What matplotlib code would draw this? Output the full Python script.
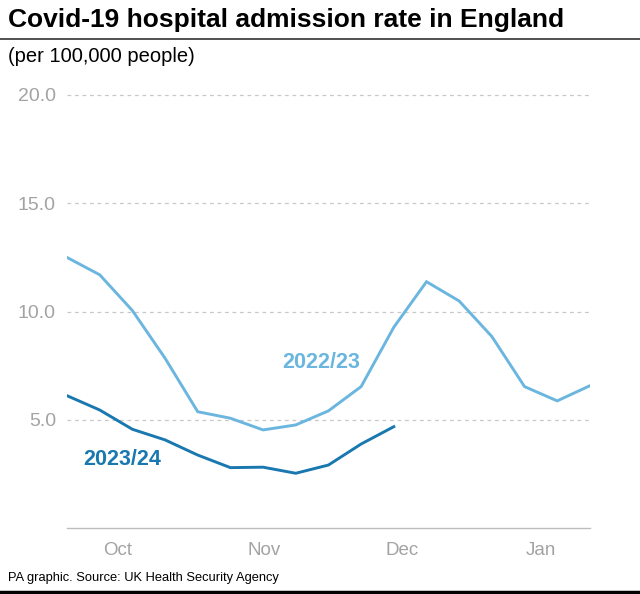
import numpy as np
import matplotlib.pyplot as plt
from matplotlib.lines import Line2D

# weekly rates, per 100,000 people
rate_2022 = [12.5, 11.7, 10.05, 7.85, 5.38, 5.08, 4.54, 4.77, 5.42, 6.54,
             9.28, 11.38, 10.49, 8.85, 6.54, 5.88, 6.58]
rate_2023 = [6.12, 5.46, 4.57, 4.08, 3.38, 2.8, 2.82, 2.54, 2.92, 3.89, 4.69]
month_pos = [1.56, 6.04, 10.25, 14.5]
month_labels = ["Oct", "Nov", "Dec", "Jan"]
y_ticks = [5, 10, 15, 20]

light = "#6bb6df"
dark = "#1a78b0"
grey = "#a3a3a3"

plt.rcParams["font.family"] = ["Liberation Sans", "DejaVu Sans"]

fig = plt.figure(figsize=(6.4, 5.94), dpi=100)
ax = fig.add_axes([0.1047, 0.1106, 0.817, 0.7296])

ax.plot(np.arange(len(rate_2022)), rate_2022, color=light, lw=2.1, solid_joinstyle="miter")
ax.plot(np.arange(len(rate_2023)), rate_2023, color=dark, lw=2.1, solid_joinstyle="miter")

ax.text(6.6, 7.65, "2022/23", color=light, fontsize=15.5, fontweight="bold", va="center", ha="left")
ax.text(0.5, 3.18, "2023/24", color=dark, fontsize=15.5, fontweight="bold", va="center", ha="left")

ax.set_xlim(0, 16)
ax.set_ylim(0, 20)
ax.set_yticks(y_ticks)
ax.set_yticklabels([f"{v:.1f}" for v in y_ticks], color=grey, fontsize=14)
ax.set_xticks(month_pos)
ax.set_xticklabels(month_labels, color=grey, fontsize=13.5)
ax.tick_params(length=0, pad=8)
ax.tick_params(axis="x", pad=10)
ax.grid(axis="y", color="#c8c8c8", ls=(0, (3, 3)), lw=0.9)
for s in ["top", "right", "left"]:
    ax.spines[s].set_visible(False)
ax.spines["bottom"].set_color("#bdbdbd")
ax.spines["bottom"].set_linewidth(1.0)
for gl in ax.get_ygridlines():
    gl.set_clip_on(False)

fig.text(0.0125, 0.967, "Covid-19 hospital admission rate in England", fontsize=19,
         fontweight="bold", va="center", ha="left")
fig.add_artist(Line2D([0, 1], [0.935, 0.935], color="#333333", lw=1.2))
fig.text(0.0125, 0.905, "(per 100,000 people)", fontsize=14.5, va="center", ha="left")
fig.text(0.0125, 0.027, "PA graphic. Source: UK Health Security Agency", fontsize=9.3,
         va="center", ha="left")
fig.add_artist(Line2D([0, 1], [0.004, 0.004], color="black", lw=2.5))

fig.savefig("out.png", dpi=100)
